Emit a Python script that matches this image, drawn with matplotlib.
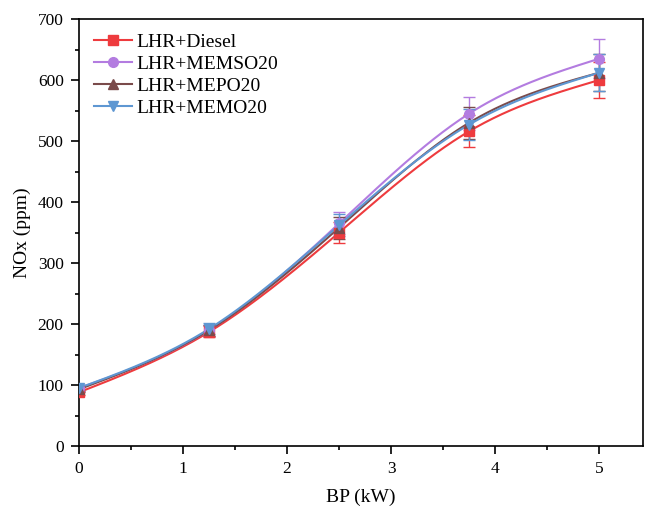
import numpy as np
import matplotlib
matplotlib.use("Agg")
import matplotlib.pyplot as plt

plt.rcParams['font.family'] = ['Liberation Serif', 'DejaVu Serif']
plt.rcParams['mathtext.fontset'] = 'stix'

bp = [0, 1.25, 2.5, 3.75, 5]
labels = ['LHR+Diesel', 'LHR+MEMSO20', 'LHR+MEPO20', 'LHR+MEMO20']
diesel = [88, 187, 350, 516, 600]
memso20 = [95, 190, 365, 545, 635]
mepo20 = [93, 190, 358, 530, 612]
memo20 = [95, 192, 362, 527, 612]
err_diesel = [5, 9, 17, 26, 30]
err_memso20 = [5, 9, 18, 27, 32]
err_mepo20 = [5, 9, 18, 26, 30]
err_memo20 = [5, 9, 18, 26, 30]

colors = ['#ee3b3e', '#b37ce0', '#7a4b4b', '#5e97d2']
markers = ['s', 'o', '^', 'v']


def natural_spline(x, y, xs):
    x = np.asarray(x, float); y = np.asarray(y, float)
    n = len(x)
    h = np.diff(x)
    A = np.zeros((n, n)); b = np.zeros(n)
    A[0, 0] = 1; A[-1, -1] = 1
    for i in range(1, n - 1):
        A[i, i - 1] = h[i - 1]
        A[i, i] = 2 * (h[i - 1] + h[i])
        A[i, i + 1] = h[i]
        b[i] = 6 * ((y[i + 1] - y[i]) / h[i] - (y[i] - y[i - 1]) / h[i - 1])
    M = np.linalg.solve(A, b)
    out = np.empty_like(xs)
    for k, xv in enumerate(xs):
        i = min(np.searchsorted(x, xv) - 1, n - 2)
        i = max(i, 0)
        t1 = x[i + 1] - xv; t0 = xv - x[i]
        out[k] = (M[i] * t1 ** 3 / (6 * h[i]) + M[i + 1] * t0 ** 3 / (6 * h[i])
                  + (y[i] / h[i] - M[i] * h[i] / 6) * t1
                  + (y[i + 1] / h[i] - M[i + 1] * h[i] / 6) * t0)
    return out


fig = plt.figure(figsize=(6.45, 5.07), dpi=100)
ax = fig.add_axes([79 / 645, 61 / 507, (643 - 79) / 645, (446 - 19) / 507])

xs = np.linspace(0, 5, 300)
series = [diesel, memso20, mepo20, memo20]
errs = [err_diesel, err_memso20, err_mepo20, err_memo20]
for ys, e, c, m, lab in zip(series, errs, colors, markers, labels):
    ax.plot(xs, natural_spline(bp, ys, xs), color=c, lw=1.5, zorder=2)
    ax.errorbar(bp, ys, yerr=e, fmt='none', ecolor=c, elinewidth=1, capsize=4, capthick=1, zorder=3)
    ax.plot(bp, ys, linestyle='none', marker=m, color=c, ms=7, zorder=4)
    ax.plot([], [], color=c, lw=1.5, marker=m, ms=7, label=lab)

ax.set_xlim(0, 5.42)
ax.set_ylim(0, 700)
ax.set_xticks([0, 1, 2, 3, 4, 5])
ax.set_xticks(np.arange(0.5, 5.5, 1), minor=True)
ax.set_yticks(range(0, 701, 100))
ax.set_yticks(range(50, 701, 100), minor=True)
ax.tick_params(which='both', direction='out', width=1.2, labelsize=12.5, top=False, right=False)
ax.tick_params(which='major', length=6, pad=5)
ax.tick_params(which='minor', length=3)
for s in ax.spines.values():
    s.set_linewidth(1.2)
ax.set_xlabel('BP (kW)', fontsize=14, labelpad=8)
ax.set_ylabel('NOx (ppm)', fontsize=14, labelpad=5)
ax.legend(loc='upper left', frameon=False, fontsize=14, handlelength=2.0,
          handletextpad=0.2, labelspacing=0.22, borderaxespad=0.35,
          bbox_to_anchor=(0.0, 1.0))

fig.savefig('out.png', dpi=100)
